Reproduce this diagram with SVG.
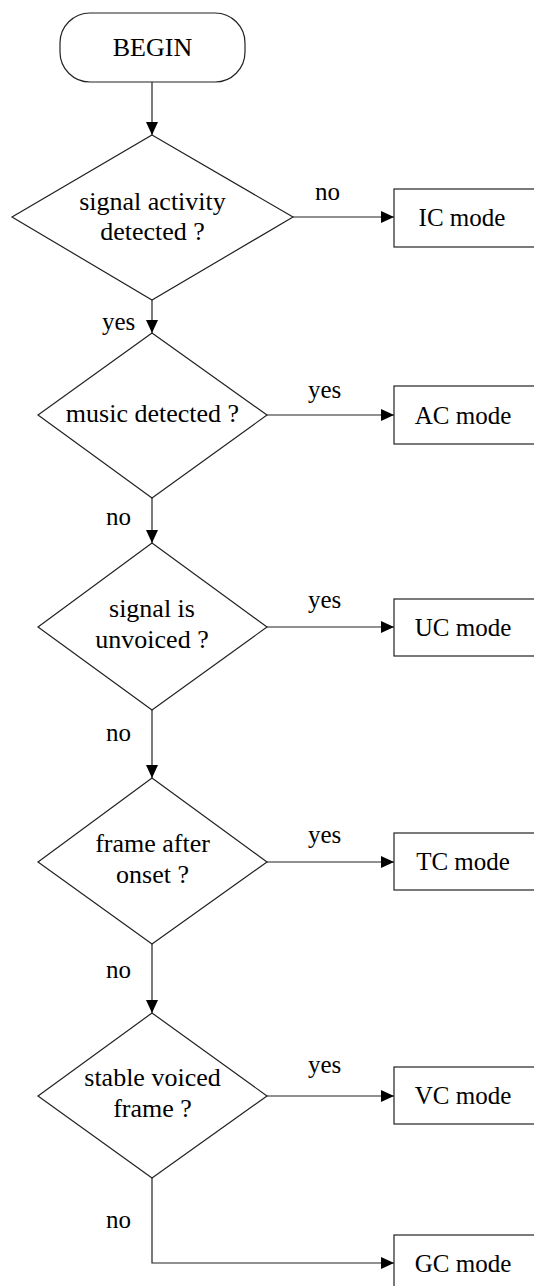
<svg xmlns="http://www.w3.org/2000/svg" width="534" height="1286" viewBox="0 0 534 1286">
<defs>
<style>
.shape{fill:#fff;stroke:#222;stroke-width:1.2}
.edge{fill:none;stroke:#222;stroke-width:1.2}
.t{font-family:'Liberation Serif','Times New Roman',Times,'DejaVu Serif',serif;font-size:25px;fill:#000}
.n{font-size:26px}
.c{text-anchor:middle}
</style>
<marker id="ah" viewBox="0 0 13 12" refX="13" refY="6" markerWidth="13" markerHeight="12" markerUnits="userSpaceOnUse" orient="auto">
<path d="M0,0 L13,6 L0,12 Z" fill="#000"/>
</marker>
</defs>
<rect width="534" height="1286" fill="#fff"/>
<g font-family="Liberation Serif, Times New Roman, DejaVu Serif, serif" font-size="25" class="t">
<g id="connectors">
<line class="edge" x1="152" y1="82" x2="152" y2="135" marker-end="url(#ah)"/>
<line class="edge" x1="293" y1="217" x2="394" y2="217" marker-end="url(#ah)"/>
<line class="edge" x1="152" y1="300" x2="152" y2="333" marker-end="url(#ah)"/>
<line class="edge" x1="267" y1="415" x2="394" y2="415" marker-end="url(#ah)"/>
<line class="edge" x1="152" y1="498" x2="152" y2="543" marker-end="url(#ah)"/>
<line class="edge" x1="267" y1="627" x2="394" y2="627" marker-end="url(#ah)"/>
<line class="edge" x1="152" y1="710" x2="152" y2="778" marker-end="url(#ah)"/>
<line class="edge" x1="267" y1="862" x2="394" y2="862" marker-end="url(#ah)"/>
<line class="edge" x1="152" y1="944" x2="152" y2="1013" marker-end="url(#ah)"/>
<line class="edge" x1="267" y1="1096" x2="394" y2="1096" marker-end="url(#ah)"/>
<polyline class="edge" points="152,1178 152,1263 394,1263" marker-end="url(#ah)"/>
<text class="t" x="315" y="200">no</text>
<text class="t" x="102" y="330">yes</text>
<text class="t" x="308" y="398">yes</text>
<text class="t" x="106" y="525">no</text>
<text class="t" x="308" y="608">yes</text>
<text class="t" x="106" y="741">no</text>
<text class="t" x="308" y="843">yes</text>
<text class="t" x="106" y="978">no</text>
<text class="t" x="308" y="1073">yes</text>
<text class="t" x="106" y="1228">no</text>
</g>
<g id="begin">
<rect class="shape" x="60" y="13" width="185" height="69" rx="30" ry="30"/>
<text class="t n c" x="152.5" y="56">BEGIN</text>
</g>
<g id="d1">
<polygon class="shape" points="152,135 293,217 152,300 12,217"/>
<text class="t n c" x="152.5" y="210">signal activity</text>
<text class="t n c" x="152.5" y="240">detected ?</text>
</g>
<g id="ic">
<rect class="shape" x="394" y="189" width="150" height="58"/>
<text class="t c" x="462" y="226">IC mode</text>
</g>
<g id="d2">
<polygon class="shape" points="152,333 267,415 152,498 38,415"/>
<text class="t n c" x="152.5" y="422">music detected ?</text>
</g>
<g id="ac">
<rect class="shape" x="394" y="386" width="150" height="58"/>
<text class="t c" x="463" y="424">AC mode</text>
</g>
<g id="d3">
<polygon class="shape" points="152,543 267,627 152,710 38,627"/>
<text class="t n c" x="152" y="617">signal is</text>
<text class="t n c" x="152" y="648">unvoiced ?</text>
</g>
<g id="uc">
<rect class="shape" x="394" y="599" width="150" height="57"/>
<text class="t c" x="463" y="636">UC mode</text>
</g>
<g id="d4">
<polygon class="shape" points="152,778 267,862 152,944 38,862"/>
<text class="t n c" x="152.5" y="852">frame after</text>
<text class="t n c" x="152.5" y="883">onset ?</text>
</g>
<g id="tc">
<rect class="shape" x="394" y="833" width="150" height="57"/>
<text class="t c" x="463" y="870">TC mode</text>
</g>
<g id="d5">
<polygon class="shape" points="152,1013 267,1096 152,1178 38,1096"/>
<text class="t n c" x="152.5" y="1086">stable voiced</text>
<text class="t n c" x="152.5" y="1117">frame ?</text>
</g>
<g id="vc">
<rect class="shape" x="394" y="1067" width="150" height="57"/>
<text class="t c" x="463" y="1104">VC mode</text>
</g>
<g id="gc">
<rect class="shape" x="394" y="1235" width="150" height="60"/>
<text class="t c" x="463" y="1272">GC mode</text>
</g>
</g>
</svg>
